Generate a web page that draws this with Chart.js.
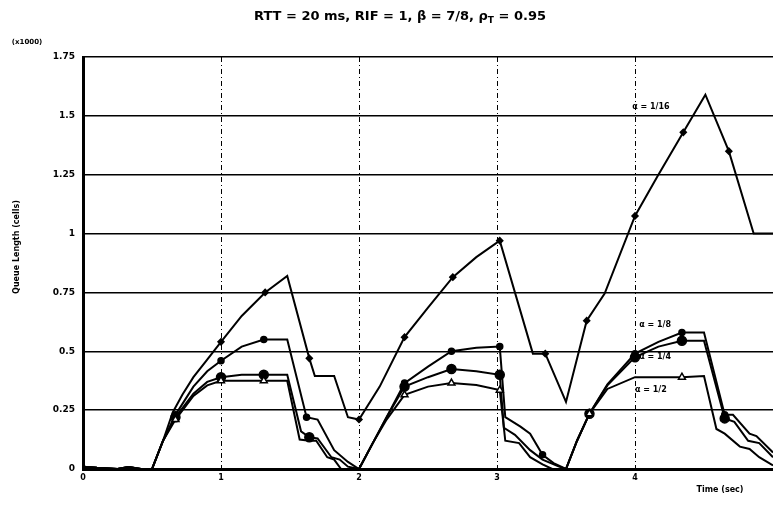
<!DOCTYPE html>
<html lang="en">
<head>
    <meta charset="UTF-8">
    <title>Queue length</title>
    <script src="https://cdn.jsdelivr.net/npm/chart.js@4"></script>
    <style>
        html, body{
            margin: 0;
            padding: 0;
            background: #fff;
        }
        .grafica{
            width: 773px;
            height: 506px;
        }
    </style>
</head>
<body>
    <div class="grafica">
        <canvas id="miCanvas" width="773" height="506"></canvas>
    </div>
    <script>
        // values, queue in thousands of cells
        const xTicks = [0, 1, 2, 3, 4];
        const yTicks = [0, 0.25, 0.5, 0.75, 1, 1.25, 1.5, 1.75];
        const yLabels = ['0', '0.25', '0.5', '0.75', '1', '1.25', '1.5', '1.75'];

        const t16 = [0, 0.1, 0.25, 0.33, 0.42, 0.5, 0.58, 0.65, 0.72, 0.8, 0.9, 1.0, 1.15, 1.32, 1.48, 1.64, 1.68, 1.82, 1.92, 2.0, 2.15, 2.33, 2.5, 2.68, 2.85, 3.02, 3.26, 3.35, 3.5, 3.65, 3.78, 4.0, 4.16, 4.35, 4.51, 4.68, 4.86, 5.0];
        const q16 = [0.01, 0.005, 0, 0.008, 0, 0, 0.12, 0.24, 0.315, 0.39, 0.465, 0.54, 0.65, 0.75, 0.82, 0.47, 0.395, 0.395, 0.22, 0.21, 0.35, 0.56, 0.685, 0.815, 0.90, 0.97, 0.49, 0.49, 0.285, 0.63, 0.745, 1.075, 1.24, 1.43, 1.59, 1.35, 1.0, 1.0];
        const m16 = [1.0, 1.32, 1.64, 2.0, 2.33, 2.68, 3.02, 3.35, 3.65, 4.0, 4.35, 4.68];

        const t8 = [0, 0.1, 0.25, 0.33, 0.42, 0.5, 0.58, 0.67, 0.8, 0.9, 1.0, 1.15, 1.31, 1.48, 1.62, 1.70, 1.82, 1.92, 2.0, 2.1, 2.2, 2.33, 2.5, 2.67, 2.85, 3.02, 3.06, 3.17, 3.24, 3.33, 3.41, 3.5, 3.58, 3.67, 3.8, 4.0, 4.17, 4.34, 4.5, 4.65, 4.71, 4.83, 4.88, 5.0];
        const q8 = [0.01, 0.005, 0, 0.008, 0, 0, 0.12, 0.23, 0.35, 0.415, 0.46, 0.52, 0.55, 0.55, 0.22, 0.21, 0.08, 0.03, 0, 0.11, 0.22, 0.365, 0.435, 0.50, 0.515, 0.52, 0.22, 0.18, 0.15, 0.06, 0.025, 0, 0.12, 0.235, 0.36, 0.49, 0.54, 0.58, 0.58, 0.23, 0.23, 0.15, 0.14, 0.07];
        const m8 = [0.67, 1.0, 1.31, 1.62, 2.33, 2.67, 3.02, 3.33, 3.67, 4.0, 4.34, 4.65];

        const t4 = [0, 0.1, 0.25, 0.33, 0.42, 0.5, 0.58, 0.67, 0.8, 0.9, 1.0, 1.15, 1.31, 1.48, 1.58, 1.64, 1.70, 1.80, 1.86, 1.92, 2.0, 2.1, 2.2, 2.33, 2.5, 2.67, 2.85, 3.02, 3.05, 3.13, 3.24, 3.33, 3.45, 3.5, 3.58, 3.67, 3.8, 4.0, 4.17, 4.34, 4.5, 4.65, 4.72, 4.82, 4.9, 5.0];
        const q4 = [0.01, 0.005, 0, 0.008, 0, 0, 0.12, 0.22, 0.32, 0.37, 0.39, 0.40, 0.40, 0.40, 0.16, 0.135, 0.13, 0.05, 0.04, 0.01, 0, 0.11, 0.22, 0.35, 0.39, 0.425, 0.415, 0.40, 0.175, 0.145, 0.08, 0.04, 0.01, 0, 0.12, 0.235, 0.355, 0.475, 0.52, 0.545, 0.545, 0.215, 0.20, 0.12, 0.11, 0.05];
        const m4 = [0.67, 1.0, 1.31, 1.64, 2.33, 2.67, 3.02, 3.67, 4.0, 4.34, 4.65];

        const t2 = [0, 0.1, 0.25, 0.33, 0.42, 0.5, 0.58, 0.67, 0.8, 0.9, 1.0, 1.31, 1.48, 1.57, 1.64, 1.69, 1.77, 1.82, 1.87, 2.0, 2.1, 2.2, 2.33, 2.5, 2.67, 2.85, 3.02, 3.06, 3.16, 3.24, 3.33, 3.4, 3.5, 3.58, 3.67, 3.8, 4.0, 4.17, 4.34, 4.5, 4.59, 4.65, 4.76, 4.83, 4.9, 5.0];
        const q2 = [0.01, 0.005, 0, 0.008, 0, 0, 0.12, 0.21, 0.31, 0.355, 0.375, 0.375, 0.375, 0.125, 0.12, 0.12, 0.05, 0.04, 0, 0, 0.11, 0.21, 0.315, 0.35, 0.365, 0.357, 0.335, 0.12, 0.11, 0.05, 0.02, 0, 0, 0.12, 0.235, 0.34, 0.39, 0.39, 0.39, 0.395, 0.17, 0.15, 0.095, 0.085, 0.05, 0.015];
        const m2 = [0.67, 1.0, 1.31, 2.33, 2.67, 3.02, 3.67, 4.34];

        const pts = (t, q) => t.map((x, i) => ({x: x, y: q[i]}));

        const serie = (t, q, marks, style, r, fill) => ({
            data: pts(t, q),
            borderColor: '#000',
            borderWidth: 2,
            pointStyle: style,
            pointBackgroundColor: fill,
            pointBorderColor: '#000',
            pointBorderWidth: 1.5,
            pointRadius: (c) => (c.raw && marks.includes(c.raw.x)) ? r : 0,
            tension: 0
        });

        const font = 'bold 8px "DejaVu Sans", sans-serif';

        const textos = {
            id: 'textos',
            afterDraw(chart){
                const ctx = chart.ctx;
                const xs = chart.scales.x, ys = chart.scales.y;
                ctx.save();
                ctx.fillStyle = '#000';

                // title with subscript T
                const big = 'bold 13px "DejaVu Sans", sans-serif';
                const small = 'bold 9px "DejaVu Sans", sans-serif';
                const a = 'RTT = 20 ms, RIF = 1, \u03b2 = 7/8, \u03c1';
                const b = ' = 0.95';
                ctx.font = big;
                const wa = ctx.measureText(a).width, wb = ctx.measureText(b).width;
                ctx.font = small;
                const ws = ctx.measureText('T').width;
                let x0 = 400 - (wa + ws + wb) / 2;
                ctx.textBaseline = 'middle';
                ctx.textAlign = 'left';
                ctx.font = big;
                ctx.fillText(a, x0, 17);
                ctx.font = small;
                ctx.fillText('T', x0 + wa, 21);
                ctx.font = big;
                ctx.fillText(b, x0 + wa + ws, 17);

                ctx.font = 'bold 7px "DejaVu Sans", sans-serif';
                ctx.textAlign = 'center';
                ctx.fillText('(x1000)', 27, 42);

                ctx.font = font;
                ctx.fillText('Time (sec)', 720, 490);

                ctx.save();
                ctx.translate(17, 247);
                ctx.rotate(-Math.PI / 2);
                ctx.fillText('Queue Length (cells)', 0, 0);
                ctx.restore();

                // curve labels
                ctx.textAlign = 'left';
                const lab = (txt, x, y) => {
                    ctx.fillText(txt, xs.getPixelForValue(x), ys.getPixelForValue(y));
                };
                lab('\u03b1 = 1/16', 3.98, 1.54);
                lab('\u03b1 = 1/8', 4.03, 0.61);
                lab('\u03b1 = 1/4', 4.03, 0.475);
                lab('\u03b1 = 1/2', 4.0, 0.335);
                ctx.restore();
            }
        };

        const miCanvas = document.getElementById('miCanvas').getContext('2d');
        window.miCanva = new Chart(miCanvas, {
            type: 'line',
            data: {
                datasets: [
                    serie(t2, q2, m2, 'triangle', 4, '#fff'),
                    serie(t4, q4, m4, 'circle', 4.5, '#000'),
                    serie(t8, q8, m8, 'circle', 3, '#000'),
                    serie(t16, q16, m16, 'rectRot', 3, '#000')
                ]
            },
            options: {
                responsive: false,
                animation: false,
                layout: {padding: {top: 57, left: 0, right: 0, bottom: 0}},
                plugins: {
                    legend: {display: false},
                    tooltip: {enabled: false},
                    title: {display: false}
                },
                scales: {
                    x: {
                        type: 'linear',
                        min: 0,
                        max: 5,
                        afterBuildTicks: (s) => { s.ticks = xTicks.map(v => ({value: v})); },
                        afterFit: (s) => { s.height = 37; },
                        ticks: {
                            color: '#000',
                            font: {family: 'DejaVu Sans', size: 8, weight: 'bold'},
                            padding: 4,
                            maxRotation: 0,
                            callback: (v) => String(v)
                        },
                        grid: {
                            color: (c) => c.tick && c.tick.value === 0 ? 'rgba(0,0,0,0)' : '#000',
                            lineWidth: 1,
                            drawTicks: false
                        },
                        border: {display: true, color: '#000', width: 3, dash: [5, 3, 1, 3]}
                    },
                    y: {
                        min: 0,
                        max: 1.75,
                        afterBuildTicks: (s) => { s.ticks = yTicks.map(v => ({value: v})); },
                        afterFit: (s) => { s.width = 83; },
                        ticks: {
                            color: '#000',
                            font: {family: 'DejaVu Sans', size: 9, weight: 'bold'},
                            padding: 8,
                            callback: (v) => yLabels[yTicks.indexOf(v)]
                        },
                        grid: {
                            color: '#000',
                            lineWidth: 1.4,
                            drawTicks: false
                        },
                        border: {display: true, color: '#000', width: 3}
                    }
                }
            },
            plugins: [textos]
        });
    </script>
</body>
</html>
